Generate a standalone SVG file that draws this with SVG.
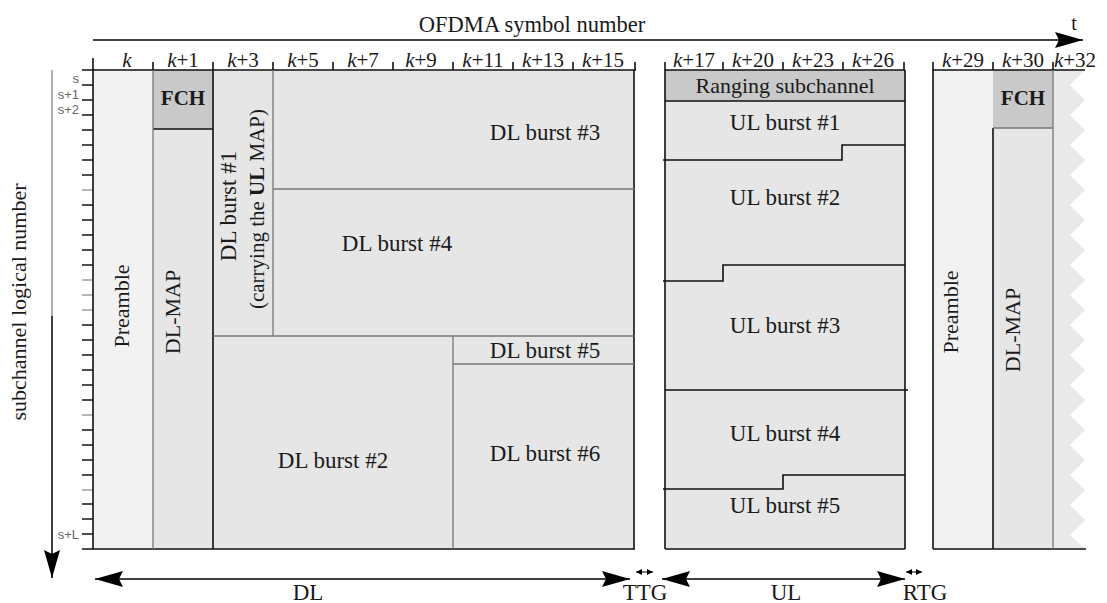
<svg xmlns="http://www.w3.org/2000/svg" width="1107" height="603" viewBox="0 0 1107 603">
<defs>
<style>
text{font-family:"Liberation Serif","Times New Roman",serif;fill:#1a1a1a}
.lbl{font-size:23px;text-anchor:middle}
.vl{font-size:22px;text-anchor:middle}
.hdr{font-size:21px;text-anchor:middle}
.hdr tspan.i{font-style:italic}
.fch{font-size:21px;font-weight:bold;text-anchor:middle}
.ax{font-family:"Liberation Sans",Arial,sans-serif;font-size:13px;fill:#666;text-anchor:end}
.blk{stroke:#111;stroke-width:1.6;fill:none}
.gry{stroke:#777;stroke-width:1.3;fill:none}
.pre{fill:#f2f2f2}
.fc{fill:#c9c9c9}
.bu{fill:#e6e6e6}
.tick{stroke:#222;stroke-width:1.6}
.tickg{stroke:#999;stroke-width:1.4}
</style>
<marker id="big" viewBox="0 0 28 16" refX="28" refY="8" markerWidth="28" markerHeight="16" markerUnits="userSpaceOnUse" orient="auto-start-reverse"><path d="M0,0 L28,8 L0,16 L4,8 z" fill="#000"/></marker>
<marker id="sm" viewBox="0 0 6 6" refX="6" refY="3" markerWidth="6" markerHeight="6" markerUnits="userSpaceOnUse" orient="auto-start-reverse"><path d="M0,0 L6,3 L0,6 z" fill="#000"/></marker>
</defs>

<!-- top time axis -->
<g id="time-axis">
<text x="532" y="32" style="font-size:22.5px;text-anchor:middle">OFDMA symbol number</text>
<text x="1074" y="30" style="font-size:20px;text-anchor:middle">t</text>
</g>

<!-- subchannel axis -->
<g id="subchannel-axis">
<text transform="translate(26,302) rotate(-90)" style="font-size:22px;text-anchor:middle">subchannel logical number</text>
<text class="ax" x="79" y="83">s</text>
<text class="ax" x="79" y="99">s+1</text>
<text class="ax" x="79" y="114">s+2</text>
<text class="ax" x="79" y="539">s+L</text>
<g class="tick">
<line x1="82" y1="70" x2="93" y2="70"/><line x1="82" y1="85" x2="93" y2="85"/><line x1="82" y1="100" x2="93" y2="100"/><line x1="82" y1="115" x2="93" y2="115"/><line x1="82" y1="130" x2="93" y2="130"/><line x1="82" y1="145" x2="93" y2="145"/><line x1="82" y1="160" x2="93" y2="160"/><line x1="82" y1="175" x2="93" y2="175"/><line x1="82" y1="205" x2="93" y2="205"/><line x1="82" y1="220" x2="93" y2="220"/><line x1="82" y1="235" x2="93" y2="235"/><line x1="82" y1="250" x2="93" y2="250"/><line x1="82" y1="265" x2="93" y2="265"/><line x1="82" y1="325" x2="93" y2="325"/><line x1="82" y1="340" x2="93" y2="340"/><line x1="82" y1="355" x2="93" y2="355"/><line x1="82" y1="370" x2="93" y2="370"/><line x1="82" y1="385" x2="93" y2="385"/><line x1="82" y1="400" x2="93" y2="400"/><line x1="82" y1="430" x2="93" y2="430"/><line x1="82" y1="445" x2="93" y2="445"/><line x1="82" y1="460" x2="93" y2="460"/><line x1="82" y1="475" x2="93" y2="475"/><line x1="82" y1="504" x2="93" y2="504"/><line x1="82" y1="519" x2="93" y2="519"/><line x1="82" y1="534" x2="93" y2="534"/>
</g>
<g class="tickg">
<line x1="82" y1="190" x2="93" y2="190"/><line x1="82" y1="280" x2="93" y2="280"/><line x1="82" y1="295" x2="93" y2="295"/><line x1="82" y1="310" x2="93" y2="310"/><line x1="82" y1="415" x2="93" y2="415"/><line x1="82" y1="490" x2="93" y2="490"/>
</g>
</g>

<!-- DL subframe -->
<g id="dl-preamble">
<rect class="pre" x="93" y="70" width="60" height="479"/>
<text class="vl" transform="translate(129,306) rotate(-90)">Preamble</text>
</g>
<g id="dl-fch">
<rect class="fc" x="153" y="70" width="60" height="59"/>
<text class="fch" x="183" y="105">FCH</text>
</g>
<g id="dl-map">
<rect class="bu" x="153" y="129" width="60" height="420"/>
<text class="vl" transform="translate(180,312) rotate(-90)">DL-MAP</text>
</g>
<g id="dl-burst-1">
<rect class="bu" x="213" y="70" width="60" height="266"/>
<text class="vl" transform="translate(236,206) rotate(-90)" style="font-size:23px">DL burst #1</text>
<text class="vl" transform="translate(264,209) rotate(-90)" style="font-size:21px">(carrying the <tspan font-weight="bold">UL</tspan> MAP)</text>
</g>
<g id="dl-burst-3">
<rect class="bu" x="273" y="70" width="361" height="119"/>
<text class="lbl" x="545" y="140">DL burst #3</text>
</g>
<g id="dl-burst-4">
<rect class="bu" x="273" y="189" width="361" height="147"/>
<text class="lbl" x="397" y="251">DL burst #4</text>
</g>
<g id="dl-burst-2">
<rect class="bu" x="213" y="336" width="240" height="213"/>
<text class="lbl" x="333" y="468">DL burst #2</text>
</g>
<g id="dl-burst-5">
<rect class="bu" x="453" y="336" width="181" height="28"/>
<text class="lbl" x="545" y="358">DL burst #5</text>
</g>
<g id="dl-burst-6">
<rect class="bu" x="453" y="364" width="181" height="185"/>
<text class="lbl" x="545" y="461">DL burst #6</text>
</g>

<!-- UL subframe -->
<g id="ul-ranging">
<rect class="fc" x="665" y="70" width="240" height="31"/>
<text class="lbl" x="785" y="93" style="font-size:22px">Ranging subchannel</text>
</g>
<g id="ul-bursts">
<rect class="bu" x="665" y="101" width="240" height="448"/>
<text class="lbl" x="785" y="130">UL burst #1</text>
<text class="lbl" x="785" y="205">UL burst #2</text>
<text class="lbl" x="785" y="333">UL burst #3</text>
<text class="lbl" x="785" y="441">UL burst #4</text>
<text class="lbl" x="785" y="513">UL burst #5</text>
</g>

<!-- next frame -->
<g id="next-preamble">
<rect class="pre" x="933" y="70" width="60" height="479"/>
<text class="vl" transform="translate(958,312) rotate(-90)">Preamble</text>
</g>
<g id="next-fch">
<rect class="fc" x="993" y="70" width="60" height="58"/>
<text class="fch" x="1023" y="105">FCH</text>
</g>
<g id="next-dl-map">
<rect class="bu" x="993" y="128" width="60" height="421"/>
<text class="vl" transform="translate(1020,330) rotate(-90)">DL-MAP</text>
</g>
<g id="next-cut">
<path class="bu" d="M1053,70 L1085,70 L1070,85 L1085,100 L1070,115 L1085,130 L1070,145 L1085,160 L1070,175 L1085,190 L1070,205 L1085,220 L1070,235 L1085,250 L1070,265 L1085,280 L1070,295 L1085,310 L1070,325 L1085,340 L1070,355 L1085,370 L1070,385 L1085,400 L1070,415 L1085,430 L1070,445 L1085,460 L1070,475 L1085,490 L1070,505 L1085,520 L1070,535 L1085,549 L1053,549 z" style="fill:#e9e9e9"/>
</g>

<!-- header labels -->
<g id="symbol-labels">
<text class="hdr" x="127" y="67"><tspan class="i">k</tspan></text>
<text class="hdr" x="183" y="67"><tspan class="i">k</tspan>+1</text>
<text class="hdr" x="243" y="67"><tspan class="i">k</tspan>+3</text>
<text class="hdr" x="303" y="67"><tspan class="i">k</tspan>+5</text>
<text class="hdr" x="363" y="67"><tspan class="i">k</tspan>+7</text>
<text class="hdr" x="421" y="67"><tspan class="i">k</tspan>+9</text>
<text class="hdr" x="483" y="67"><tspan class="i">k</tspan>+11</text>
<text class="hdr" x="543" y="67"><tspan class="i">k</tspan>+13</text>
<text class="hdr" x="603" y="67"><tspan class="i">k</tspan>+15</text>
<text class="hdr" x="694" y="67"><tspan class="i">k</tspan>+17</text>
<text class="hdr" x="753" y="67"><tspan class="i">k</tspan>+20</text>
<text class="hdr" x="813" y="67"><tspan class="i">k</tspan>+23</text>
<text class="hdr" x="873" y="67"><tspan class="i">k</tspan>+26</text>
<text class="hdr" x="963" y="67"><tspan class="i">k</tspan>+29</text>
<text class="hdr" x="1023" y="67"><tspan class="i">k</tspan>+30</text>
<text class="hdr" x="1075" y="67"><tspan class="i">k</tspan>+32</text>
</g>

<!-- connectors: axes, grid lines and span arrows -->
<g id="connectors">
<line x1="93" y1="40" x2="1083" y2="40" stroke="#000" stroke-width="1.6" marker-end="url(#big)"/>
<line x1="52" y1="70" x2="52" y2="316" stroke="#999" stroke-width="1.6"/>
<line x1="52" y1="316" x2="52" y2="578" stroke="#111" stroke-width="1.6" marker-end="url(#big)"/>

<!-- header baselines and ticks -->
<path class="blk" d="M93,70 H636 M665,70 H905 M933,70 H1085"/>
<path class="blk" d="M153,62 V70 M213,62 V70 M273,62 V70 M333,62 V70 M393,62 V70 M453,62 V70 M513,62 V70 M573,62 V70 M635,62 V70 M665,62 V70 M723,62 V70 M783,62 V70 M843,62 V70 M904,62 V70 M933,62 V70 M993,62 V70 M1053,62 V70"/>

<!-- DL frame -->
<path class="blk" d="M93,58 V549 M82,549 H635 M634,70 V549 M213,70 V549 M153,129 H213"/>
<path class="gry" d="M153,70 V549 M273,70 V336 M273,189 H634 M213,336 H634 M453,336 V549 M453,364 H634"/>

<!-- UL frame -->
<path class="blk" d="M665,70 V549 M905,70 V549 M665,549 H905 M665,101 H905"/>
<path class="blk" d="M663,160 H842 V145 H905 M663,281 H723 V265 H905 M665,390 H908 M663,489 H783 V475 H905"/>

<!-- next frame -->
<path class="blk" d="M933,70 V549 M933,549 H1086 M993,128 V549"/>
<path class="gry" d="M1053,70 V549 M993,128 H1053"/>

<!-- span arrows -->
<line x1="95" y1="579" x2="630" y2="579" stroke="#000" stroke-width="1.4" marker-start="url(#big)" marker-end="url(#big)"/>
<line x1="662" y1="579" x2="905" y2="579" stroke="#000" stroke-width="1.4" marker-start="url(#big)" marker-end="url(#big)"/>
<line x1="636" y1="572" x2="653" y2="572" stroke="#000" stroke-width="1" marker-start="url(#sm)" marker-end="url(#sm)"/>
<line x1="906" y1="572" x2="922" y2="572" stroke="#000" stroke-width="1" marker-start="url(#sm)" marker-end="url(#sm)"/>
</g>

<g id="span-labels">
<text class="lbl" x="308" y="600">DL</text>
<text class="lbl" x="645" y="600">TTG</text>
<text class="lbl" x="786" y="600">UL</text>
<text class="lbl" x="925" y="600">RTG</text>
</g>
</svg>
